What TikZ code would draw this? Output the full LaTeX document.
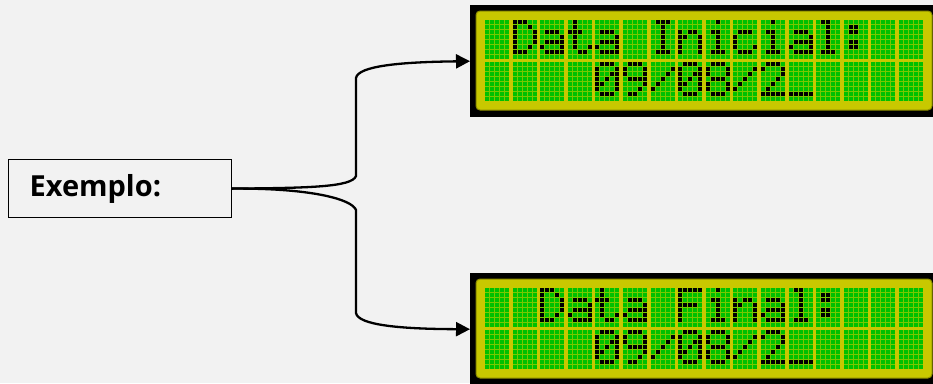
\documentclass[tikz,border=0pt]{standalone}
\usepackage{fontspec}
\setmainfont{Open Sans}
\usepackage{tikz}
\usetikzlibrary{arrows.meta}

\definecolor{bgcol}{HTML}{F2F2F2}
\definecolor{lcdyellow}{HTML}{C8C800}
\definecolor{lcdrim}{HTML}{8C8C00}
\definecolor{lcdgap}{HTML}{78C800}
\definecolor{lcdoff}{HTML}{00C000}
\definecolor{lcdon}{HTML}{000000}

% 5x8 字模
\newcommand\defglyph[2]{\expandafter\def\csname lcdg-#1\endcsname{#2}}
\defglyph{sp}{00000,00000,00000,00000,00000,00000,00000,00000}
\defglyph{D}{11100,10010,10001,10001,10001,10010,11100,00000}
\defglyph{a}{00000,00000,01110,00001,01111,10001,01111,00000}
\defglyph{t}{01000,01000,11100,01000,01000,01001,00110,00000}
\defglyph{I}{01110,00100,00100,00100,00100,00100,01110,00000}
\defglyph{n}{00000,00000,10110,11001,10001,10001,10001,00000}
\defglyph{i}{00100,00000,01100,00100,00100,00100,01110,00000}
\defglyph{c}{00000,00000,01110,10000,10000,10001,01110,00000}
\defglyph{l}{01100,00100,00100,00100,00100,00100,01110,00000}
\defglyph{F}{11111,10000,10000,11110,10000,10000,10000,00000}
\defglyph{colon}{00000,01100,01100,00000,01100,01100,00000,00000}
\defglyph{zero}{01110,10001,10011,10101,11001,10001,01110,00000}
\defglyph{nine}{01110,10001,10001,01111,00001,00010,01100,00000}
\defglyph{eight}{01110,10001,10001,01110,10001,10001,01110,00000}
\defglyph{two}{01110,10001,00001,00010,00100,01000,11111,00000}
\defglyph{slash}{00000,00001,00010,00100,01000,10000,00000,00000}
\defglyph{under}{00000,00000,00000,00000,00000,00000,11111,00000}

% 一个点, 一行五个点, 一行十六个字
\newcommand\lcdpix[2]{%
  \ifnum#1=1 \def\dotcol{lcdon}\else\def\dotcol{lcdoff}\fi
  \fill[\dotcol] (\lcdx+#2*5,\lcdy+\r*5) rectangle ++(4,4);}
\def\lcdbits#1#2#3#4#5{\lcdpix{#1}{0}\lcdpix{#2}{1}\lcdpix{#3}{2}\lcdpix{#4}{3}\lcdpix{#5}{4}}
\newcommand\lcdline[3]{%
  \foreach \g [count=\k from 0] in {#3} {
    \pgfmathsetmacro\lcdx{#1+\k*27.6}
    \def\lcdy{#2}
    \fill[lcdgap] (\lcdx,\lcdy) rectangle ++(24,39);
    \edef\glyph{\csname lcdg-\g\endcsname}
    \foreach \bits [count=\r from 0] in \glyph {\expandafter\lcdbits\bits}
  }}

\begin{document}
\begin{tikzpicture}[x=1pt, y=-1pt,
    lcdframe/.style={fill=black, inner sep=0pt, minimum width=463pt, minimum height=112pt, anchor=north west},
    lcdglass/.style={fill=lcdyellow, draw=lcdrim, line width=1pt, rounded corners=4pt},
    exbox/.style={draw=black, line width=1.2pt, fill=bgcol, anchor=north west,
        minimum width=223pt, minimum height=58pt, text width=181pt, inner xsep=21pt, inner ysep=0pt,
        align=left, font=\fontsize{29}{35}\selectfont\bfseries},
    link/.style={line width=2.3pt, -{Triangle[length=14pt, width=14pt]}}]

    \useasboundingbox (0,0) rectangle (933,383);
    % 背景
    \fill[bgcol] (0,0) rectangle (933,383);

    % 液晶屏
    \node[lcdframe] (lcdtop) at (470,5) {};
    \node[lcdframe] (lcdbot) at (470,273) {};
    \draw[lcdglass] (476,11) rectangle (932,110);
    \draw[lcdglass] (476,279) rectangle (932,378);

    \lcdline{485}{20}{sp,D,a,t,a,sp,I,n,i,c,i,a,l,colon,sp,sp}
    \lcdline{485}{62}{sp,sp,sp,sp,zero,nine,slash,zero,eight,slash,two,under,sp,sp,sp,sp}
    \lcdline{485}{288}{sp,sp,D,a,t,a,sp,F,i,n,a,l,colon,sp,sp,sp}
    \lcdline{485}{330}{sp,sp,sp,sp,zero,nine,slash,zero,eight,slash,two,under,sp,sp,sp,sp}

    % 示例框
    \node[exbox] (ex) at (8,159) {Exemplo:};

    % 连线
    \coordinate (bendup) at (356,176);
    \coordinate (topup) at (356,78);
    \coordinate (benddown) at (356,210);
    \coordinate (topdown) at (356,313);
    \draw[link] (ex.east) .. controls (310,188) and (352,187) .. (bendup) -- (topup)
        .. controls (358,66) and (400,62) .. (lcdtop.west);
    \draw[link] (ex.east) .. controls (310,188) and (352,199) .. (benddown) -- (topdown)
        .. controls (358,325) and (400,329) .. (lcdbot.west);
\end{tikzpicture}
\end{document}
